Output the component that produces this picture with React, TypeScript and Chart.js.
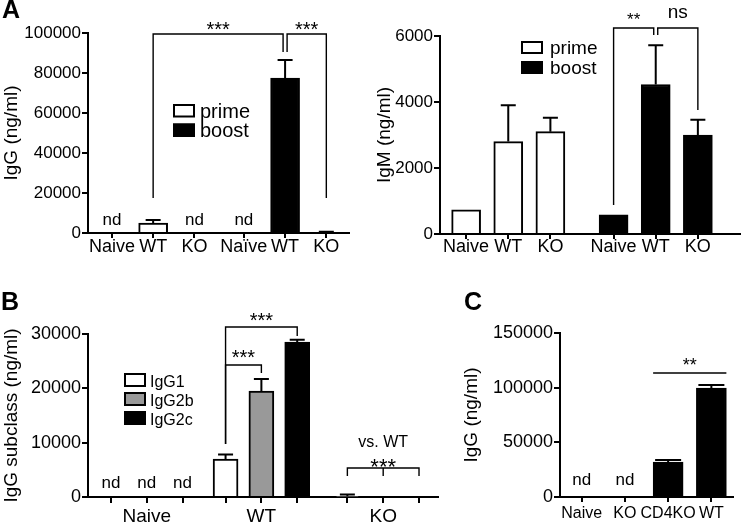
import React, { useEffect, useRef } from 'react';
import { Chart, registerables } from 'chart.js';
Chart.register(...registerables);

const FONT = "'Liberation Sans', Arial, Helvetica, sans-serif";

// ---------- Panel A (left): IgG ----------
const aIgGLabels = ['Naive', 'WT', 'KO', 'Naïve', 'WT', 'KO'];
const aIgGPositions = [0, 1, 2, 3.2, 4.2, 5.2];
const aIgGPrime = [null, 5000, null];
const aIgGPrimeErr = [0, 1500, 0];
const aIgGBoost = [null, 77500, 150];
const aIgGBoostErr = [0, 9000, 450];
const aIgGNd = ['nd', '', 'nd', 'nd', '', ''];
const aIgGTicks = [0, 20000, 40000, 60000, 80000, 100000];

// ---------- Panel A (right): IgM ----------
const aIgMLabels = ['Naive', 'WT', 'KO', 'Naive', 'WT', 'KO'];
const aIgMPositions = [0, 1, 2, 3.5, 4.5, 5.5];
const aIgMPrime = [730, 2800, 3100];
const aIgMPrimeErr = [0, 1100, 420];
const aIgMBoost = [580, 4530, 3000];
const aIgMBoostErr = [0, 1190, 460];
const aIgMTicks = [0, 2000, 4000, 6000];

// ---------- Panel B: IgG subclasses ----------
const bGroups = ['Naive', 'WT', 'KO'];
const bSubclasses = ['IgG1', 'IgG2b', 'IgG2c'];
const bPositions = [0, 1, 2, 3.2, 4.2, 5.2, 6.6, 7.6, 8.6];
const bIgG1 = [null, 7000, 150];
const bIgG1Err = [0, 800, 300];
const bIgG2b = [null, 19500, null];
const bIgG2bErr = [0, 2200, 0];
const bIgG2c = [null, 28500, null];
const bIgG2cErr = [0, 450, 0];
const bNd = ['nd', 'nd', 'nd', '', '', '', '', '', ''];
const bTicks = [0, 10000, 20000, 30000];

// ---------- Panel C: IgG ----------
const cLabels = ['Naive', 'KO', 'CD4KO', 'WT'];
const cPositions = [0, 1, 2, 3];
const cIgG = [null, null, 32000, 99700];
const cIgGErr = [0, 0, 1800, 2700];
const cNd = ['nd', 'nd', '', ''];
const cTicks = [0, 50000, 100000, 150000];

type Series = { label: string; fill: string; xs: number[]; values: (number | null)[]; errs: number[] };
type Bracket = {
  x1: number; x2: number; dx1?: number; dx2?: number; top: number; leg1: number; leg2: number;
  mids?: number[]; label: string; size: number; dy: number;
};
type Txt = { text: string; x: number; y: number; dy: number; size: number };
type Legend = { dx: number; dy: number; rowH: number; boxW: number; boxH: number; gap: number; size: number };
type PanelCfg = {
  left: number; top: number; width: number; height: number;
  area: { left: number; top: number; right: number; bottom: number };
  xMin: number; xMax: number; xTicks: number[]; xLabels: string[]; xFont: number; xPad: number; xTickLen: number;
  yMax: number; yTicks: number[]; yTitle: string; titleSize: number; titlePad: number; tickFont: number;
  series: Series[]; barWidth: number; capW: number;
  nd: { texts: string[]; xs: number[]; offset: number; size: number };
  brackets: Bracket[]; texts: Txt[]; legend?: Legend;
};

function drawDecor(chart: any, p: PanelCfg) {
  const ctx: CanvasRenderingContext2D = chart.ctx;
  const xs = chart.scales.x;
  const ys = chart.scales.y;
  ctx.save();
  // error bars
  ctx.strokeStyle = '#000';
  ctx.lineWidth = 2;
  p.series.forEach((s, d) => {
    const meta = chart.getDatasetMeta(d);
    s.values.forEach((v, i) => {
      const e = s.errs[i];
      if (v == null || !e) return;
      const el: any = meta.data[i];
      const x = el.x;
      const y0 = ys.getPixelForValue(v);
      const y1 = ys.getPixelForValue(v + e);
      ctx.beginPath();
      ctx.moveTo(x, y0);
      ctx.lineTo(x, y1);
      ctx.moveTo(x - p.capW / 2, y1);
      ctx.lineTo(x + p.capW / 2, y1);
      ctx.stroke();
    });
  });
  // nd labels
  ctx.fillStyle = '#000';
  ctx.textAlign = 'center';
  ctx.textBaseline = 'alphabetic';
  ctx.font = `${p.nd.size}px ${FONT}`;
  const y0 = ys.getPixelForValue(0);
  p.nd.texts.forEach((t, i) => {
    if (!t) return;
    ctx.fillText(t, xs.getPixelForValue(p.nd.xs[i]), y0 - p.nd.offset);
  });
  // brackets
  ctx.lineWidth = 1.4;
  p.brackets.forEach((b) => {
    const X1 = xs.getPixelForValue(b.x1) + (b.dx1 || 0);
    const X2 = xs.getPixelForValue(b.x2) + (b.dx2 || 0);
    const Y = ys.getPixelForValue(b.top);
    ctx.beginPath();
    ctx.moveTo(X1, ys.getPixelForValue(b.leg1));
    ctx.lineTo(X1, Y);
    ctx.lineTo(X2, Y);
    ctx.lineTo(X2, ys.getPixelForValue(b.leg2));
    (b.mids || []).forEach((m) => {
      const xm = xs.getPixelForValue(m);
      ctx.moveTo(xm, Y);
      ctx.lineTo(xm, ys.getPixelForValue(b.leg1));
    });
    ctx.stroke();
    ctx.font = `${b.size}px ${FONT}`;
    ctx.fillText(b.label, (X1 + X2) / 2, Y + b.dy);
  });
  p.texts.forEach((t) => {
    ctx.font = `${t.size}px ${FONT}`;
    ctx.fillText(t.text, xs.getPixelForValue(t.x), ys.getPixelForValue(t.y) + t.dy);
  });
  // legend
  if (p.legend) {
    const L = p.legend;
    const a = chart.chartArea;
    p.series.forEach((s, i) => {
      const bx = a.left + L.dx;
      const by = a.top + L.dy + i * L.rowH;
      ctx.fillStyle = s.fill;
      ctx.fillRect(bx, by, L.boxW, L.boxH);
      ctx.lineWidth = 2;
      ctx.strokeStyle = '#000';
      ctx.strokeRect(bx + 1, by + 1, L.boxW - 2, L.boxH - 2);
      ctx.fillStyle = '#000';
      ctx.font = `${L.size}px ${FONT}`;
      ctx.textAlign = 'left';
      ctx.fillText(s.label, bx + L.boxW + L.gap, by + L.boxH);
    });
  }
  ctx.restore();
}

function buildConfig(p: PanelCfg): any {
  const datasets = p.series.map((s) => ({
    label: s.label,
    data: s.xs.map((x, i) => ({ x, y: s.values[i] })),
    backgroundColor: s.fill,
    borderColor: '#000',
    borderWidth: 2,
    borderSkipped: 'start',
    grouped: false,
    barThickness: p.barWidth,
    maxBarThickness: p.barWidth,
  }));
  return {
    type: 'bar',
    data: { datasets },
    options: {
      animation: false,
      responsive: false,
      devicePixelRatio: 1,
      layout: {
        autoPadding: false,
        padding: { left: 0, top: p.area.top, right: p.width - p.area.right, bottom: 0 },
      },
      plugins: { legend: { display: false }, tooltip: { enabled: false } },
      scales: {
        x: {
          type: 'linear',
          min: p.xMin,
          max: p.xMax,
          offset: false,
          afterBuildTicks: (s: any) => {
            s.ticks = p.xTicks.map((v) => ({ value: v }));
          },
          afterFit: (s: any) => {
            s.height = p.height - p.area.bottom;
          },
          ticks: {
            autoSkip: false,
            maxRotation: 0,
            minRotation: 0,
            padding: p.xPad,
            color: '#000',
            font: { family: FONT, size: p.xFont },
            callback: (_v: any, i: number) => p.xLabels[i],
          },
          grid: { offset: false, drawOnChartArea: false, drawTicks: true, tickLength: p.xTickLen, color: '#000', lineWidth: 2 },
          border: { display: true, color: '#000', width: 2 },
        },
        y: {
          type: 'linear',
          min: 0,
          max: p.yMax,
          afterBuildTicks: (s: any) => {
            s.ticks = p.yTicks.map((v) => ({ value: v }));
          },
          afterFit: (s: any) => {
            s.width = p.area.left;
          },
          ticks: {
            padding: 1,
            color: '#000',
            font: { family: FONT, size: p.tickFont },
            callback: (v: any) => String(v),
          },
          grid: { drawOnChartArea: false, drawTicks: true, tickLength: 6, color: '#000', lineWidth: 2 },
          border: { display: true, color: '#000', width: 2 },
          title: {
            display: true,
            text: p.yTitle,
            color: '#000',
            font: { family: FONT, size: p.titleSize },
            padding: { top: p.titlePad, bottom: 0 },
          },
        },
      },
    },
    plugins: [{ id: 'decor', afterDatasetsDraw: (chart: any) => drawDecor(chart, p) }],
  };
}

function Panel({ cfg }: { cfg: PanelCfg }) {
  const ref = useRef<HTMLCanvasElement>(null);
  useEffect(() => {
    const chart = new Chart(ref.current as HTMLCanvasElement, buildConfig(cfg));
    return () => chart.destroy();
  }, []);
  return (
    <canvas
      ref={ref}
      width={cfg.width}
      height={cfg.height}
      style={{ position: 'absolute', left: cfg.left, top: cfg.top, width: cfg.width, height: cfg.height }}
    />
  );
}

const panelAIgG: PanelCfg = {
  left: 0, top: 0, width: 360, height: 260,
  area: { left: 88, top: 33, right: 349, bottom: 233 },
  xMin: -0.58, xMax: 5.75, xTicks: aIgGPositions, xLabels: aIgGLabels, xFont: 18, xPad: -2, xTickLen: 5,
  yMax: 100000, yTicks: aIgGTicks, yTitle: 'IgG (ng/ml)', titleSize: 19, titlePad: 0, tickFont: 17,
  series: [
    { label: 'prime', fill: '#ffffff', xs: aIgGPositions.slice(0, 3), values: aIgGPrime, errs: aIgGPrimeErr },
    { label: 'boost', fill: '#000000', xs: aIgGPositions.slice(3), values: aIgGBoost, errs: aIgGBoostErr },
  ],
  barWidth: 29, capW: 15,
  nd: { texts: aIgGNd, xs: aIgGPositions, offset: 8, size: 17 },
  brackets: [
    { x1: 1, x2: 4.2, dx2: -2, top: 99500, leg1: 17500, leg2: 90500, label: '***', size: 20, dy: 1.5 },
    { x1: 4.2, dx1: 2, x2: 5.2, top: 99500, leg1: 90500, leg2: 17500, label: '***', size: 20, dy: 1.5 },
  ],
  texts: [],
  legend: { dx: 85, dy: 71, rowH: 19.5, boxW: 22, boxH: 13.5, gap: 5, size: 20 },
};

const panelAIgM: PanelCfg = {
  left: 360, top: 0, width: 382, height: 260,
  area: { left: 80, top: 36, right: 380, bottom: 234 },
  xMin: -0.62, xMax: 6.5, xTicks: aIgMPositions, xLabels: aIgMLabels, xFont: 18, xPad: -3, xTickLen: 5,
  yMax: 6000, yTicks: aIgMTicks, yTitle: 'IgM (ng/ml)', titleSize: 19, titlePad: 13.6, tickFont: 17,
  series: [
    { label: 'prime', fill: '#ffffff', xs: aIgMPositions.slice(0, 3), values: aIgMPrime, errs: aIgMPrimeErr },
    { label: 'boost', fill: '#000000', xs: aIgMPositions.slice(3), values: aIgMBoost, errs: aIgMBoostErr },
  ],
  barWidth: 29, capW: 15,
  nd: { texts: [], xs: aIgMPositions, offset: 8, size: 17 },
  brackets: [
    { x1: 3.5, x2: 4.5, dx2: -2, top: 6242, leg1: 879, leg2: 6030, label: '**', size: 17, dy: -3 },
    { x1: 4.5, dx1: 2, x2: 5.5, top: 6242, leg1: 6030, leg2: 3758, label: 'ns', size: 19, dy: -10 },
  ],
  texts: [],
  legend: { dx: 81, dy: 5, rowH: 20, boxW: 22, boxH: 13, gap: 7, size: 19 },
};

const panelB: PanelCfg = {
  left: 0, top: 260, width: 450, height: 264,
  area: { left: 88, top: 74, right: 438, bottom: 237 },
  xMin: -0.64, xMax: 9.13, xTicks: bPositions,
  xLabels: bPositions.map((_, i) => (i % 3 === 1 ? bGroups[(i - 1) / 3] : '')),
  xFont: 19, xPad: 2, xTickLen: 6,
  yMax: 30000, yTicks: bTicks, yTitle: 'IgG subclass (ng/ml)', titleSize: 19, titlePad: 0.6, tickFont: 18,
  series: [
    { label: bSubclasses[0], fill: '#ffffff', xs: bPositions.filter((_, i) => i % 3 === 0), values: bIgG1, errs: bIgG1Err },
    { label: bSubclasses[1], fill: '#999999', xs: bPositions.filter((_, i) => i % 3 === 1), values: bIgG2b, errs: bIgG2bErr },
    { label: bSubclasses[2], fill: '#000000', xs: bPositions.filter((_, i) => i % 3 === 2), values: bIgG2c, errs: bIgG2cErr },
  ],
  barWidth: 25, capW: 15,
  nd: { texts: bNd, xs: bPositions, offset: 9, size: 17 },
  brackets: [
    { x1: 3.2, x2: 5.2, top: 31290, leg1: 9755, leg2: 29630, label: '***', size: 20, dy: 0 },
    { x1: 3.2, x2: 4.2, top: 24295, leg1: 9755, leg2: 22820, label: '***', size: 20, dy: -1 },
    { x1: 6.6, x2: 8.6, top: 5340, leg1: 3865, leg2: 3865, mids: [7.6], label: '***', size: 22, dy: 6 },
  ],
  texts: [{ text: 'vs. WT', x: 7.6, y: 5340, dy: -21, size: 16 }],
  legend: { dx: 36, dy: 39, rowH: 19, boxW: 22, boxH: 14, gap: 4, size: 16 },
};

const panelC: PanelCfg = {
  left: 450, top: 260, width: 292, height: 264,
  area: { left: 110, top: 73, right: 283, bottom: 237 },
  xMin: -0.5, xMax: 3.5, xTicks: cPositions, xLabels: cLabels, xFont: 16, xPad: 2, xTickLen: 5,
  yMax: 150000, yTicks: cTicks, yTitle: 'IgG (ng/ml)', titleSize: 19, titlePad: 10.6, tickFont: 18,
  series: [{ label: 'IgG', fill: '#000000', xs: cPositions, values: cIgG, errs: cIgGErr }],
  barWidth: 30, capW: 26,
  nd: { texts: cNd, xs: cPositions, offset: 12, size: 17 },
  brackets: [{ x1: 2, dx1: -15, x2: 3, dx2: 15, top: 113400, leg1: 113400, leg2: 113400, label: '**', size: 18, dy: -2 }],
  texts: [],
};

const letterStyle = (left: number, top: number): React.CSSProperties => ({
  position: 'absolute', left, top, font: `bold 25px ${FONT}`, lineHeight: '25px', color: '#000',
});

export default function App() {
  return (
    <div style={{ position: 'absolute', left: 0, top: 0, width: 742, height: 524, background: '#fff', overflow: 'hidden' }}>
      <Panel cfg={panelAIgG} />
      <Panel cfg={panelAIgM} />
      <Panel cfg={panelB} />
      <Panel cfg={panelC} />
      <div style={letterStyle(2, -3)}>A</div>
      <div style={letterStyle(1, 289)}>B</div>
      <div style={letterStyle(464, 289)}>C</div>
    </div>
  );
}
